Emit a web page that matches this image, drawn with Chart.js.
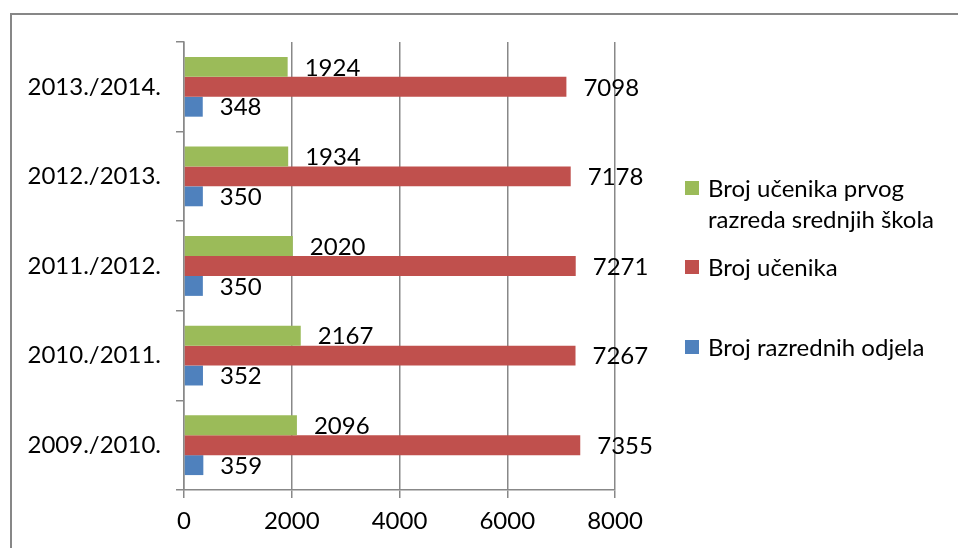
<!DOCTYPE html>
<html>
<head>
<meta charset="utf-8">
<script src="https://cdn.jsdelivr.net/npm/chart.js@4/dist/chart.umd.min.js"></script>
<style>
  html, body { margin: 0; padding: 0; background: #fff; overflow: hidden; }
  #wrap { position: relative; width: 958px; height: 548px; }
  #frame { position: absolute; left: 10px; top: 13px; width: 1000px; height: 600px; border: 2px solid #878787; box-sizing: border-box; }
  canvas { position: absolute; left: 0; top: 0; }
  #legend { position: absolute; left: 685px; top: 0; font-family: Lato, sans-serif; font-size: 24px; color: #000; }
  .item { position: absolute; left: 0; width: 270px; }
  .box { position: absolute; left: 0; top: 6px; width: 14px; height: 14px; }
  .txt { position: absolute; left: 23px; top: 0; line-height: 31px; margin-top: -3px; white-space: nowrap; }
</style>
</head>
<body>
<div id="wrap">
  <div id="frame"></div>
  <canvas id="c" width="958" height="548"></canvas>
  <div id="legend"></div>
</div>
<script>
const categories = ['2013./2014.', '2012./2013.', '2011./2012.', '2010./2011.', '2009./2010.'];
const prvogRazreda = [1924, 1934, 2020, 2167, 2096];
const brojUcenika = [7098, 7178, 7271, 7267, 7355];
const razredniOdjeli = [348, 350, 350, 352, 359];
const seriesNames = [['Broj učenika prvog', 'razreda srednjih škola'], ['Broj učenika'], ['Broj razrednih odjela']];
const xMin = 0, xMax = 8000, xStep = 2000;

const FONT = 'Lato, sans-serif';
const gridGray = '#888888';

// value labels at the end of each bar
const valueLabels = {
  id: 'valueLabels',
  afterDatasetsDraw(chart) {
    const ctx = chart.ctx;
    ctx.save();
    ctx.font = '24px ' + FONT;
    ctx.fillStyle = '#000';
    ctx.textAlign = 'left';
    ctx.textBaseline = 'middle';
    chart.data.datasets.forEach((ds, i) => {
      chart.getDatasetMeta(i).data.forEach((bar, j) => {
        ctx.fillText(String(ds.data[j]), bar.x + 17, bar.y + 1);
      });
    });
    ctx.restore();
  }
};

const chart = new Chart(document.getElementById('c').getContext('2d'), {
  type: 'bar',
  data: {
    labels: categories,
    datasets: [
      { label: seriesNames[0].join(' '), data: prvogRazreda, backgroundColor: '#9BBB59' },
      { label: seriesNames[1].join(' '), data: brojUcenika, backgroundColor: '#C0504D' },
      { label: seriesNames[2].join(' '), data: razredniOdjeli, backgroundColor: '#4F81BD' }
    ]
  },
  options: {
    indexAxis: 'y',
    responsive: false,
    animation: false,
    devicePixelRatio: 1,
    categoryPercentage: 0.667,
    barPercentage: 1,
    layout: { padding: { left: 0, top: 42, right: 343, bottom: 0 } },
    plugins: { legend: { display: false }, tooltip: { enabled: false } },
    scales: {
      x: {
        min: xMin, max: xMax,
        ticks: {
          stepSize: xStep, color: '#000', font: { family: FONT, size: 24 }, padding: 9,
          callback: (v) => String(v)
        },
        grid: { color: gridGray, lineWidth: 1.5, tickLength: 8 },
        border: { color: gridGray, width: 1.5 },
        afterFit(scale) { scale.height = 58; }
      },
      y: {
        ticks: { color: '#000', font: { family: FONT, size: 24 }, padding: 15 },
        grid: { drawOnChartArea: false, offset: true, color: gridGray, lineWidth: 1.5, tickLength: 8 },
        border: { color: gridGray, width: 1.5 },
        afterFit(scale) { scale.width = 184; }
      }
    }
  },
  plugins: [valueLabels]
});

// legend on the right, built from the datasets
const legend = document.getElementById('legend');
const itemTops = [175, 254, 334];
chart.data.datasets.forEach((ds, i) => {
  const item = document.createElement('div');
  item.className = 'item';
  item.style.top = itemTops[i] + 'px';
  const box = document.createElement('div');
  box.className = 'box';
  box.style.background = ds.backgroundColor;
  const txt = document.createElement('div');
  txt.className = 'txt';
  txt.innerHTML = seriesNames[i].join('<br>');
  item.appendChild(box);
  item.appendChild(txt);
  legend.appendChild(item);
});
</script>
</body>
</html>
